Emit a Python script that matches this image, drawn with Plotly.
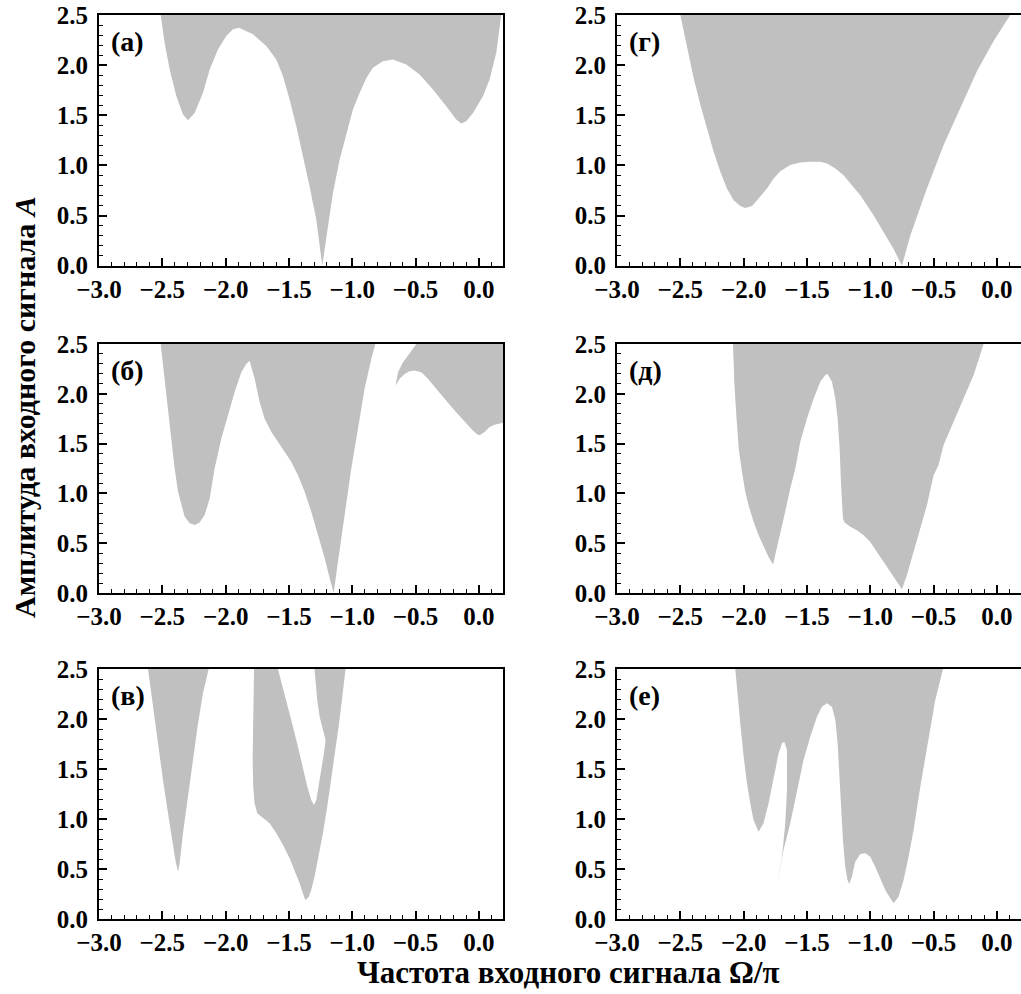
import plotly.graph_objects as go

GRAY = "#c0c0c0"
FONT = "Liberation Serif, Times New Roman, DejaVu Serif, serif"

# ---- data: lower boundaries of the grey regions (x = Omega/pi, y = A) ----
# panel (а)
a_x = [-2.513, -2.482, -2.442, -2.389, -2.337, -2.297, -2.245, -2.179, -2.126, -2.061, -1.995, -1.942,
       -1.895, -1.784, -1.679, -1.600, -1.547, -1.495, -1.442, -1.389, -1.337, -1.284, -1.237, -1.192,
       -1.153, -1.100, -1.047, -0.995, -0.942, -0.889, -0.837, -0.758, -0.679, -0.574, -0.468, -0.363,
       -0.258, -0.179, -0.139, -0.100, -0.047, 0.032, 0.084, 0.137, 0.176]
a_y = [2.5, 2.223, 1.957, 1.69, 1.507, 1.45, 1.523, 1.723, 1.957, 2.157, 2.29, 2.357,
       2.373, 2.307, 2.19, 2.057, 1.89, 1.657, 1.39, 1.09, 0.79, 0.457, 0.0, 0.39,
       0.723, 1.057, 1.323, 1.557, 1.723, 1.873, 1.973, 2.04, 2.057, 2.007, 1.907, 1.757,
       1.59, 1.457, 1.417, 1.44, 1.523, 1.69, 1.857, 2.123, 2.5]

# panel (б), region 1
b1_x = [-2.513, -2.482, -2.455, -2.429, -2.403, -2.376, -2.350, -2.324, -2.284, -2.245, -2.205, -2.166,
        -2.126, -2.087, -2.034, -1.982, -1.929, -1.876, -1.837, -1.811, -1.771, -1.732, -1.692, -1.639,
        -1.587, -1.534, -1.482, -1.429, -1.376, -1.324, -1.271, -1.218, -1.179, -1.147, -1.113, -1.061,
        -1.008, -0.955, -0.903, -0.850, -0.818]
b1_y = [2.5, 2.15, 1.817, 1.55, 1.25, 1.017, 0.883, 0.767, 0.70, 0.683, 0.707, 0.783,
        0.95, 1.25, 1.55, 1.783, 2.017, 2.217, 2.30, 2.333, 2.15, 1.917, 1.75, 1.617,
        1.517, 1.417, 1.317, 1.183, 1.017, 0.817, 0.583, 0.35, 0.15, 0.0, 0.317, 0.783,
        1.25, 1.65, 2.05, 2.35, 2.5]
# panel (б), region 2
b2_x = [-0.495, -0.521, -0.561, -0.600, -0.639, -0.658, -0.626, -0.587, -0.547, -0.508, -0.455, -0.403,
        -0.350, -0.271, -0.192, -0.113, -0.061, -0.021, 0.005, 0.045, 0.084, 0.124, 0.176, 0.197, 0.197]
b2_y = [2.5, 2.45, 2.383, 2.317, 2.217, 2.083, 2.15, 2.20, 2.227, 2.233, 2.217, 2.15,
        2.067, 1.95, 1.833, 1.717, 1.65, 1.60, 1.583, 1.617, 1.667, 1.69, 1.707, 1.71, 2.5]

# panel (в), region 1
c1_x = [-2.613, -2.574, -2.534, -2.495, -2.455, -2.424, -2.397, -2.376, -2.363, -2.337, -2.297, -2.258,
        -2.218, -2.179, -2.134]
c1_y = [2.5, 2.124, 1.758, 1.391, 1.059, 0.792, 0.593, 0.476, 0.559, 0.859, 1.225, 1.591,
        1.957, 2.257, 2.5]
# panel (в), region 2
c2_x = [-1.776, -1.782, -1.787, -1.782, -1.772, -1.750, -1.705, -1.653, -1.600, -1.547, -1.495, -1.456,
        -1.416, -1.390, -1.371, -1.345, -1.324, -1.298, -1.266, -1.232, -1.198, -1.166, -1.134, -1.108,
        -1.082, -1.061, -1.053, -1.298, -1.290, -1.277, -1.258, -1.232, -1.211, -1.224, -1.245, -1.266,
        -1.284, -1.303, -1.324, -1.355, -1.390, -1.429, -1.482, -1.535, -1.587]
c2_y = [2.5, 2.091, 1.591, 1.325, 1.159, 1.059, 1.009, 0.959, 0.859, 0.742, 0.609, 0.492,
        0.359, 0.259, 0.193, 0.22, 0.293, 0.426, 0.625, 0.859, 1.125, 1.392, 1.658, 1.924,
        2.191, 2.391, 2.5, 2.5, 2.391, 2.191, 2.024, 1.891, 1.791, 1.658, 1.492, 1.325,
        1.192, 1.142, 1.192, 1.325, 1.525, 1.724, 1.991, 2.258, 2.5]

# panel (г)
d_x = [-2.500, -2.447, -2.395, -2.342, -2.289, -2.237, -2.184, -2.132, -2.079, -2.026, -1.987, -1.934,
       -1.882, -1.816, -1.763, -1.711, -1.632, -1.553, -1.474, -1.395, -1.342, -1.276, -1.211, -1.079,
       -0.974, -0.895, -0.816, -0.750, -0.684, -0.553, -0.421, -0.289, -0.158, -0.026, 0.105]
d_y = [2.5, 2.174, 1.873, 1.605, 1.371, 1.137, 0.936, 0.769, 0.652, 0.595, 0.575, 0.595,
       0.669, 0.769, 0.87, 0.943, 1.003, 1.03, 1.037, 1.037, 1.02, 0.97, 0.903, 0.702,
       0.502, 0.334, 0.167, 0.0, 0.301, 0.769, 1.204, 1.572, 1.94, 2.241, 2.5]

# panel (д)
e_x = [-2.084, -2.074, -2.058, -2.039, -2.013, -1.987, -1.961, -1.921, -1.882, -1.842, -1.803, -1.768,
       -1.737, -1.684, -1.632, -1.592, -1.553, -1.500, -1.447, -1.395, -1.355, -1.337, -1.303, -1.276,
       -1.258, -1.242, -1.232, -1.224, -1.216, -1.203, -1.158, -1.105, -1.053, -1.000, -0.947, -0.895,
       -0.842, -0.789, -0.750, -0.711, -0.658, -0.605, -0.553, -0.500, -0.461, -0.421, -0.342, -0.263,
       -0.184, -0.105]
e_y = [2.5, 2.121, 1.786, 1.451, 1.216, 1.015, 0.881, 0.714, 0.58, 0.462, 0.362, 0.285,
       0.446, 0.747, 1.049, 1.25, 1.518, 1.753, 1.954, 2.121, 2.188, 2.198, 2.121, 1.954,
       1.753, 1.451, 1.116, 0.881, 0.747, 0.707, 0.664, 0.63, 0.58, 0.513, 0.412, 0.312,
       0.211, 0.111, 0.037, 0.178, 0.412, 0.647, 0.881, 1.183, 1.284, 1.485, 1.719, 1.954,
       2.188, 2.5]

# panel (е)
f_x = [-2.066, -2.053, -2.027, -2.000, -1.974, -1.948, -1.922, -1.882, -1.843, -1.803, -1.764, -1.724,
       -1.697, -1.679, -1.658, -1.658, -1.671, -1.697, -1.737, -1.685, -1.632, -1.579, -1.527, -1.474,
       -1.421, -1.382, -1.342, -1.303, -1.276, -1.258, -1.245, -1.232, -1.216, -1.198, -1.180, -1.166,
       -1.145, -1.119, -1.079, -1.040, -1.000, -0.961, -0.921, -0.882, -0.842, -0.816, -0.777, -0.737,
       -0.698, -0.658, -0.605, -0.566, -0.526, -0.487, -0.426]
f_y = [2.5, 2.29, 1.958, 1.624, 1.359, 1.159, 0.992, 0.875, 0.959, 1.159, 1.425, 1.658,
       1.758, 1.774, 1.691, 1.292, 0.959, 0.625, 0.326, 0.692, 0.959, 1.292, 1.591, 1.824,
       2.024, 2.124, 2.158, 2.124, 1.991, 1.758, 1.459, 1.125, 0.792, 0.525, 0.393, 0.353,
       0.426, 0.575, 0.652, 0.659, 0.625, 0.525, 0.409, 0.293, 0.21, 0.16, 0.226, 0.393,
       0.625, 0.892, 1.325, 1.625, 1.924, 2.19, 2.5]

panel_labels = ["(а)", "(б)", "(в)", "(г)", "(д)", "(е)"]
panel_regions = [
    [(a_x, a_y)],
    [(b1_x, b1_y), (b2_x, b2_y)],
    [(c1_x, c1_y), (c2_x, c2_y)],
    [(d_x, d_y)],
    [(e_x, e_y)],
    [(f_x, f_y)],
]
x_ticks = [-3.0, -2.5, -2.0, -1.5, -1.0, -0.5, 0.0]
y_ticks = [0.0, 0.5, 1.0, 1.5, 2.0, 2.5]
x_range = [-3.0, 0.19]
y_range = [0.0, 2.5]

W, H = 1021, 994
col_dom = [[99 / W, 503 / W], [617 / W, 1.0]]
row_dom = [[1 - 265.7 / H, 1 - 15 / H], [1 - 593 / H, 1 - 344 / H], [1 - 919.3 / H, 1 - 669 / H]]

fig = go.Figure()
tickfont = dict(family=FONT, size=25, color="black", weight="bold")
layout = {}
annotations = []
for i, (label, regions) in enumerate(zip(panel_labels, panel_regions)):
    n = i + 1
    col, row = i // 3, i % 3
    suffix = "" if n == 1 else str(n)
    for xs, ys in regions:
        fig.add_trace(go.Scatter(
            x=xs, y=ys, mode="lines", fill="toself", fillcolor=GRAY,
            line=dict(width=0, color="rgba(0,0,0,0)"),
            xaxis="x" + suffix, yaxis="y" + suffix, showlegend=False, hoverinfo="skip"))
    common = dict(showline=True, linecolor="black", linewidth=2, mirror=True,
                  ticks="inside", ticklen=8, tickwidth=1.5, tickcolor="black",
                  showgrid=False, zeroline=False, tickfont=tickfont, tickformat=".1f",
                  automargin=False)
    layout["xaxis" + suffix] = dict(domain=col_dom[col], anchor="y" + suffix, range=x_range,
                                    tickvals=x_ticks,
                                    minor=dict(ticks="inside", ticklen=4, tickwidth=1, tickcolor="black",
                                               dtick=0.1, tick0=-3.0),
                                    **common)
    layout["yaxis" + suffix] = dict(domain=row_dom[row], anchor="x" + suffix, range=y_range,
                                    tickvals=y_ticks, ticklabelstandoff=4,
                                    minor=dict(ticks="inside", ticklen=4, tickwidth=1, tickcolor="black",
                                               dtick=0.1, tick0=0.0),
                                    **common)
    annotations.append(dict(text=label, xref="x" + suffix + " domain", yref="y" + suffix + " domain",
                            x=0.025, y=0.965, xanchor="left", yanchor="top", showarrow=False,
                            font=dict(family=FONT, size=28, color="black", weight="bold")))

annotations.append(dict(text="Амплитуда входного сигнала <i>A</i>", xref="paper", yref="paper",
                        x=25 / W, y=1 - 407 / H, textangle=-90, showarrow=False,
                        xanchor="center", yanchor="middle",
                        font=dict(family=FONT, size=30, color="black", weight="bold")))
annotations.append(dict(text="Частота входного сигнала Ω/π", xref="paper", yref="paper",
                        x=568 / W, y=1 - 972 / H, showarrow=False,
                        xanchor="center", yanchor="middle",
                        font=dict(family=FONT, size=31, color="black", weight="bold")))

fig.update_layout(width=W, height=H, margin=dict(l=0, r=0, t=0, b=0),
                  paper_bgcolor="white", plot_bgcolor="white", template="none",
                  annotations=annotations, **layout)
fig.write_html("out.html")
